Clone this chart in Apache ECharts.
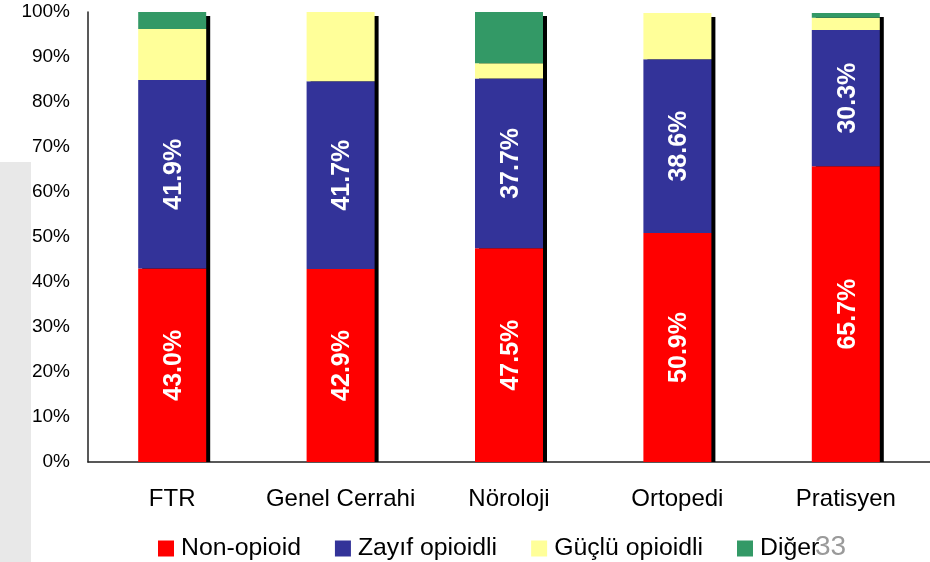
<!DOCTYPE html>
<html>
<head>
<meta charset="utf-8">
<script src="https://cdn.jsdelivr.net/npm/echarts@6/dist/echarts.min.js"></script>
<style>
html,body{margin:0;padding:0;background:#fff;}
#main{width:930px;height:562px;}
</style>
</head>
<body>
<div id="main"></div>
<script>
var categories = ['FTR', 'Genel Cerrahi', 'Nöroloji', 'Ortopedi', 'Pratisyen'];
var seriesNames = ['Non-opioid', 'Zayıf opioidli', 'Güçlü opioidli', 'Diğer'];
var nonOpioid = [43.0, 42.9, 47.5, 50.9, 65.7];
var zayif = [41.9, 41.7, 37.7, 38.6, 30.3];
var guclu = [11.3, 15.4, 3.4, 10.3, 2.7];
var diger = [3.8, 0, 11.4, 0, 1.1];
var yTicks = [0, 10, 20, 30, 40, 50, 60, 70, 80, 90, 100];
var pageNumber = '33';

var totals = categories.map(function (c, i) {
  return nonOpioid[i] + zayif[i] + guclu[i] + diger[i];
});

var FONT = '"Liberation Sans", Arial, sans-serif';
var BARW = 68;

var chart = echarts.init(document.getElementById('main'), null, {renderer: 'canvas'});

var labelCfg = {
  show: true,
  position: 'inside',
  rotate: 90,
  color: '#fff',
  fontFamily: FONT,
  fontWeight: 'bold',
  fontSize: 25,
  offset: [0, 2],
  formatter: function (p) { return p.value.toFixed(1) + '%'; }
};

chart.setOption({
  animation: false,
  backgroundColor: '#fff',
  grid: {left: 88, top: 12, width: 850, height: 450, containLabel: false},
  graphic: [
    {type: 'rect', left: 0, top: 162, shape: {width: 31, height: 400}, style: {fill: '#e8e8e8'}, z: -10, silent: true},
    {type: 'text', left: 815, top: 533, style: {text: pageNumber, fill: '#9a9a9a', font: '28px ' + FONT}, z: 100}
  ],
  legend: {
    data: seriesNames.map(function (n) { return {name: n, icon: 'rect'}; }),
    left: 153,
    top: 531,
    itemWidth: 16,
    itemHeight: 16,
    itemGap: 34,
    textStyle: {fontFamily: FONT, fontSize: 24.8, color: '#000', padding: [0, 0, 0, 2]}
  },
  xAxis: {
    type: 'category',
    data: categories,
    axisLine: {show: true, lineStyle: {color: '#222', width: 1.5}},
    axisTick: {show: false},
    axisLabel: {fontFamily: FONT, fontSize: 24, color: '#000', margin: 25, interval: 0}
  },
  yAxis: {
    type: 'value',
    min: 0,
    max: 100,
    interval: 10,
    axisLine: {show: true, lineStyle: {color: '#222', width: 1.5}},
    axisTick: {show: false},
    splitLine: {show: false},
    axisLabel: {
      fontFamily: FONT, fontSize: 19, color: '#000', margin: 18, padding: [6, 0, 0, 0],
      formatter: function (v) { return yTicks.indexOf(v) >= 0 ? v + '%' : ''; }
    }
  },
  series: [
    {
      type: 'custom',
      name: 'shadow',
      z: 1,
      silent: true,
      clip: true,
      data: categories.map(function (c, i) { return [i, totals[i]]; }),
      renderItem: function (params, api) {
        var top = api.coord([api.value(0), api.value(1)]);
        var base = api.coord([api.value(0), 0]);
        return {
          type: 'rect',
          shape: {x: top[0] - BARW / 2 + 4, y: top[1] + 4, width: BARW, height: base[1] - top[1] - 4},
          style: {fill: '#000'}
        };
      }
    },
    {name: seriesNames[0], type: 'bar', stack: 'a', barWidth: BARW, z: 2, data: nonOpioid,
      itemStyle: {color: '#FF0000'}, label: labelCfg},
    {name: seriesNames[1], type: 'bar', stack: 'a', barWidth: BARW, z: 2, data: zayif,
      itemStyle: {color: '#333399'}, label: labelCfg},
    {name: seriesNames[2], type: 'bar', stack: 'a', barWidth: BARW, z: 2, data: guclu,
      itemStyle: {color: '#FFFF99'}},
    {name: seriesNames[3], type: 'bar', stack: 'a', barWidth: BARW, z: 2, data: diger,
      itemStyle: {color: '#339966'}}
  ]
});
</script>
</body>
</html>
